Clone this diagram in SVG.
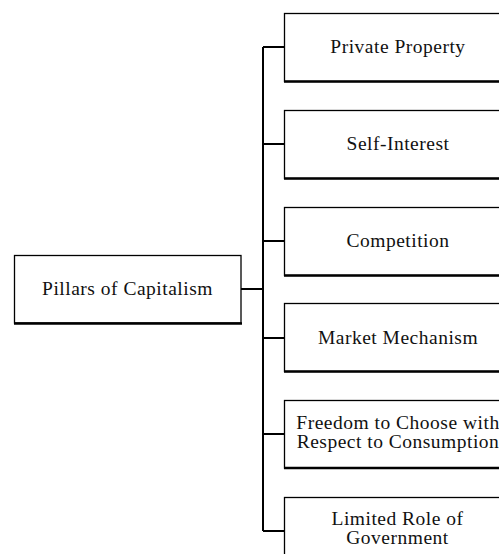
<svg xmlns="http://www.w3.org/2000/svg" width="499" height="554" viewBox="0 0 499 554">
  <style>
    .box { fill: #fff; stroke: #000; stroke-width: 1.3; }
    .shade { stroke: #000; stroke-width: 2.6; fill: none; }
    .link { stroke: #000; stroke-width: 2; fill: none; }
    .lbl { font-family: "Liberation Serif", "Times New Roman", serif; font-size: 19.5px; letter-spacing: 0.5px; fill: #111; text-anchor: middle; }
  </style>
  <rect width="499" height="554" fill="#fff"/>

  <g id="connectors">
    <line class="link" x1="241" y1="289" x2="263" y2="289"/>
    <line class="link" x1="263" y1="47" x2="263" y2="531"/>
    <line class="link" x1="263" y1="47" x2="284" y2="47"/>
    <line class="link" x1="263" y1="144" x2="284" y2="144"/>
    <line class="link" x1="263" y1="241" x2="284" y2="241"/>
    <line class="link" x1="263" y1="338" x2="284" y2="338"/>
    <line class="link" x1="263" y1="434" x2="284" y2="434"/>
    <line class="link" x1="263" y1="531" x2="284" y2="531"/>
  </g>

  <g id="pillars">
    <rect class="box" x="14.5" y="255.5" width="226.5" height="67.5"/>
    <line class="shade" x1="14" y1="323.5" x2="242" y2="323.5"/>
    <text class="lbl" x="127.5" y="295">Pillars of Capitalism</text>
  </g>

  <g id="private-property">
    <rect class="box" x="284.5" y="13.5" width="230" height="68"/>
    <line class="shade" x1="284" y1="81.5" x2="515" y2="81.5"/>
    <text class="lbl" x="398" y="53">Private Property</text>
  </g>

  <g id="self-interest">
    <rect class="box" x="284.5" y="110.5" width="230" height="68"/>
    <line class="shade" x1="284" y1="178.5" x2="515" y2="178.5"/>
    <text class="lbl" x="398" y="150">Self-Interest</text>
  </g>

  <g id="competition">
    <rect class="box" x="284.5" y="207.5" width="230" height="68"/>
    <line class="shade" x1="284" y1="275.5" x2="515" y2="275.5"/>
    <text class="lbl" x="398" y="247">Competition</text>
  </g>

  <g id="market-mechanism">
    <rect class="box" x="284.5" y="303.5" width="230" height="68"/>
    <line class="shade" x1="284" y1="371.5" x2="515" y2="371.5"/>
    <text class="lbl" x="398" y="344">Market Mechanism</text>
  </g>

  <g id="freedom-to-choose">
    <rect class="box" x="284.5" y="400.5" width="230" height="67.5"/>
    <line class="shade" x1="284" y1="468" x2="515" y2="468"/>
    <text class="lbl" x="398" y="429">Freedom to Choose with</text>
    <text class="lbl" x="398" y="448">Respect to Consumption</text>
  </g>

  <g id="limited-government">
    <rect class="box" x="284.5" y="497.5" width="230" height="68"/>
    <text class="lbl" x="397.5" y="525">Limited Role of</text>
    <text class="lbl" x="397.5" y="544">Government</text>
  </g>
</svg>
